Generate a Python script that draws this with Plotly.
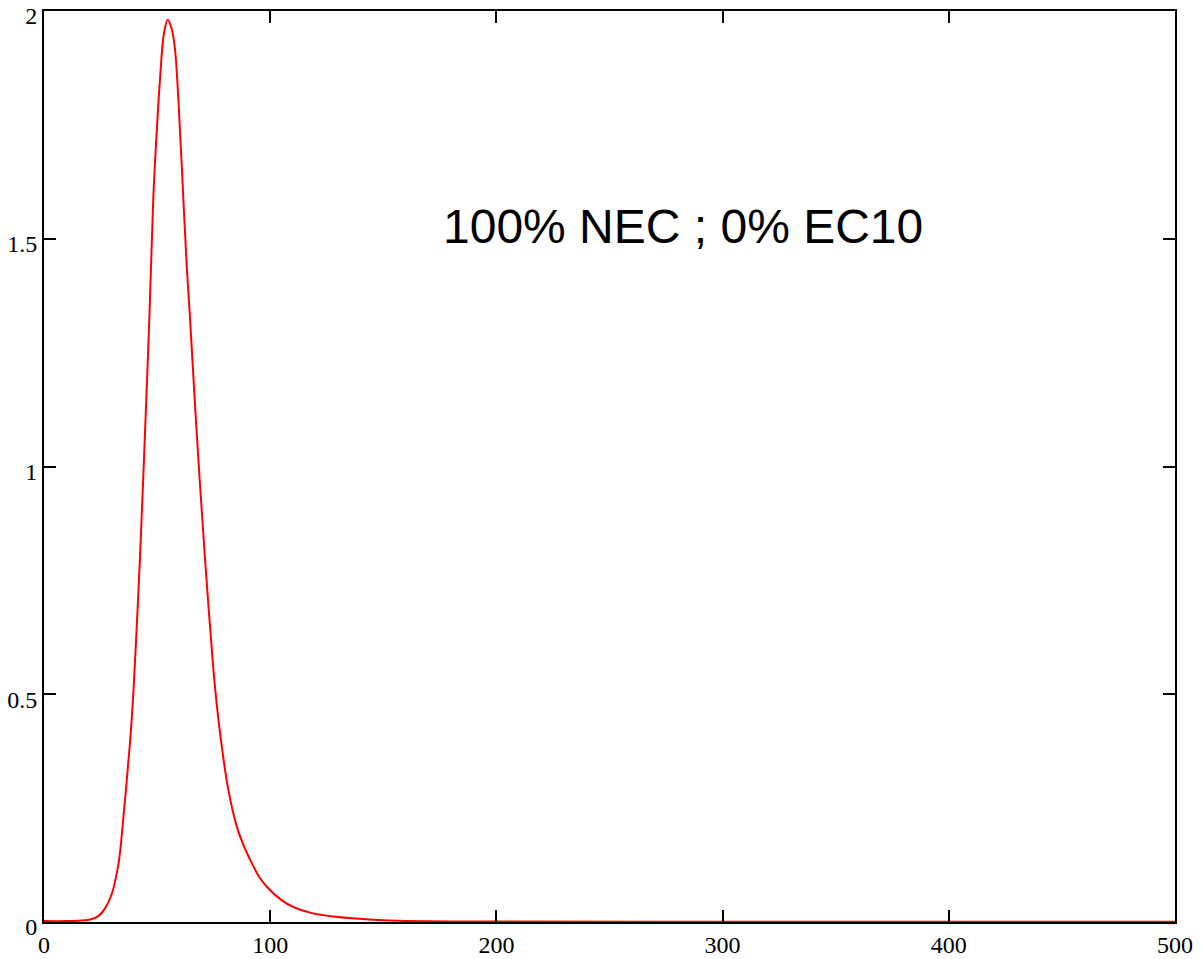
import plotly.graph_objects as go

# Curve values
x_vals = [0, 10, 15, 20, 24, 27, 30, 32.1, 33.3, 35.8, 38.0, 39.5, 41.0, 42.4, 44.65,
          46.6, 48.3, 49.8, 51.3, 53, 54.7, 56.5, 57.9, 59.4, 60.9, 63.1, 64.5,
          67.5, 71.2, 73.4, 75.6, 78.6, 81.5, 85.2, 88.1, 90.8, 95, 98.4, 105,
          110.2, 118, 127.9, 150, 200, 300, 400, 500]
y_vals = [0.002, 0.002, 0.003, 0.005, 0.013, 0.03, 0.062, 0.105, 0.14, 0.268, 0.393,
          0.503, 0.649, 0.796, 1.074, 1.33, 1.587, 1.733, 1.851, 1.95, 1.981,
          1.96, 1.916, 1.807, 1.66, 1.44, 1.33, 1.074, 0.796, 0.649, 0.515,
          0.385, 0.29, 0.21, 0.17, 0.14, 0.1, 0.078, 0.048, 0.033, 0.02, 0.012,
          0.004, 0.001, 0.0005, 0.0005, 0.0005]

x_ticks = [0, 100, 200, 300, 400, 500]
x_tick_text = ["0", "100", "200", "300", "400", "500"]
y_ticks = [0, 0.5, 1, 1.5, 2]
y_tick_text = ["0", "0.5", "1", "1.5", "2"]

label_text = "100% NEC ; 0% EC10"

fig = go.Figure()
fig.add_trace(go.Scatter(
    x=x_vals, y=y_vals, mode="lines",
    line=dict(color="#ff0000", width=2, shape="spline", smoothing=1.0),
    showlegend=False, hoverinfo="skip",
))

fig.add_annotation(
    x=282.5, y=1.527, xref="x", yref="y", text=label_text, showarrow=False,
    font=dict(family="Liberation Sans, Arial, sans-serif", size=48, color="black"),
    xanchor="center", yanchor="middle",
)

axis_common = dict(
    showgrid=False, zeroline=False, showline=True, linecolor="black", linewidth=2,
    mirror="allticks", ticks="inside", ticklen=12, tickwidth=2, tickcolor="black",
    automargin=False, ticklabeloverflow="allow",
    tickfont=dict(family="Liberation Serif, Times New Roman, serif", size=24, color="black"),
)

fig.update_xaxes(range=[0, 500], tickvals=x_ticks, ticktext=x_tick_text, **axis_common)
fig.update_yaxes(range=[0, 2], tickvals=y_ticks, ticktext=y_tick_text,
                 ticklabelstandoff=0, ticklabelshift=5, **axis_common)

fig.update_layout(
    width=1202, height=959,
    margin=dict(l=44, r=27, t=11, b=37),
    plot_bgcolor="white", paper_bgcolor="white",
)

fig.write_html("out.html", config={"displayModeBar": False},
               post_script="document.body.style.margin='0px';document.body.style.overflow='hidden';")
